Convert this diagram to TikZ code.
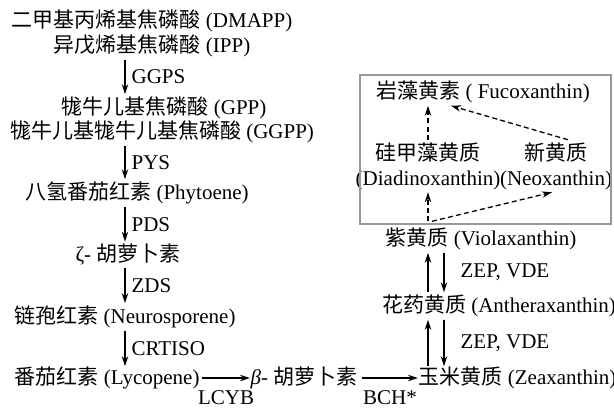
\documentclass[tikz,border=0pt]{standalone}
\usepackage{fontspec}
\setmainfont{Liberation Serif}
\newfontfamily\cjk{Noto Sans CJK SC}
\usetikzlibrary{arrows.meta,calc}

\begin{document}
\begin{tikzpicture}[x=0.5pt, y=-0.5pt, line width=0.65pt,
  every node/.style={inner sep=1pt, font=\fontsize{10.5}{12.5}\selectfont},
  arr/.style={-{Stealth[length=5pt,width=3.2pt]}},
  dasharr/.style={arr, dash pattern=on 2.5pt off 1.6pt},
  lbl/.style={right=3pt, inner sep=0pt},
  lblb/.style={below=6pt, inner sep=0pt}]
\useasboundingbox (0,0) rectangle (614,408);

% left column
\node (dmapp) at (152,21) {{\cjk 二甲基丙烯基焦磷酸} (DMAPP)};
\node (ipp) at (152,46) {{\cjk 异戊烯基焦磷酸} (IPP)};
\node (gpp) at (164,108) {{\cjk 牻牛儿基焦磷酸} (GPP)};
\node (ggpp) at (162,132) {{\cjk 牻牛儿基牻牛儿基焦磷酸} (GGPP)};
\node (phyto) at (137,193) {{\cjk 八氢番茄红素} (Phytoene)};
\node (zcar) at (128,255) {ζ- {\cjk 胡萝卜素}};
\node (neuro) at (125,317) {{\cjk 链孢红素} (Neurosporene)};
\coordinate (ax) at (125,0);

% bottom row
\node[anchor=west, inner sep=0pt] (lyco) at (14,378) {{\cjk 番茄红素} (Lycopene)};
\node[anchor=west, inner sep=0pt] (bcar) at (250,378) {{\itshape β}- {\cjk 胡萝卜素}};
\node[anchor=west, inner sep=0pt] (zea) at (418,378) {{\cjk 玉米黄质} (Zeaxanthin)};

% right column
\node (anthera) at (499,306) {{\cjk 花药黄质} (Antheraxanthin)};
\node (viola) at (481,239) {{\cjk 紫黄质} (Violaxanthin)};
\node[align=center] (diadino) at (428,166) {{\cjk 硅甲藻黄质}\\(Diadinoxanthin)};
\node[align=center] (neo) at (556,166) {{\cjk 新黄质}\\(Neoxanthin)};
\node (fuco) at (483,92) {{\cjk 岩藻黄素} ( Fucoxanthin)};
\coordinate (upx) at (428,0);
\coordinate (dnx) at (444,0);

\draw[gray!80, line width=0.8pt] (360,75) rectangle (611,224);

% pathway
\draw[arr] (ipp.south -| ax) -- node[lbl] {GGPS} (gpp.north -| ax);
\draw[arr] (ggpp.south -| ax) -- node[lbl] {PYS} (phyto.north -| ax);
\draw[arr] (phyto.south -| ax) -- node[lbl] {PDS} (zcar.north -| ax);
\draw[arr] (zcar.south -| ax) -- node[lbl] {ZDS} (neuro.north -| ax);
\draw[arr] (neuro.south -| ax) -- node[lbl] {CRTISO} (lyco.north -| ax);
\draw[arr] ([xshift=1pt]lyco.east) -- node[lblb] {LCYB} (bcar.west);
\draw[arr] ([xshift=2pt]bcar.east) -- node[lblb] {BCH*} (zea.west);

\draw[arr] (zea.north -| upx) -- (anthera.south -| upx);
\draw[arr] (anthera.south -| dnx) -- node[lbl, right=5pt] {ZEP, VDE} (zea.north -| dnx);
\draw[arr] (anthera.north -| upx) -- (viola.south -| upx);
\draw[arr] (viola.south -| dnx) -- node[lbl, right=5pt] {ZEP, VDE} (anthera.north -| dnx);

\draw[dasharr] ([yshift=2pt]viola.north -| upx) -- (diadino.south -| upx);
\draw[dasharr] ([xshift=2pt,yshift=2pt]viola.north -| upx) -- ([xshift=-2pt]neo.south);
\draw[dasharr] (diadino.north -| upx) -- (fuco.south -| upx);
\draw[dasharr] ([xshift=6pt]neo.north) -- ([xshift=-16pt]fuco.south);
\end{tikzpicture}
\end{document}
